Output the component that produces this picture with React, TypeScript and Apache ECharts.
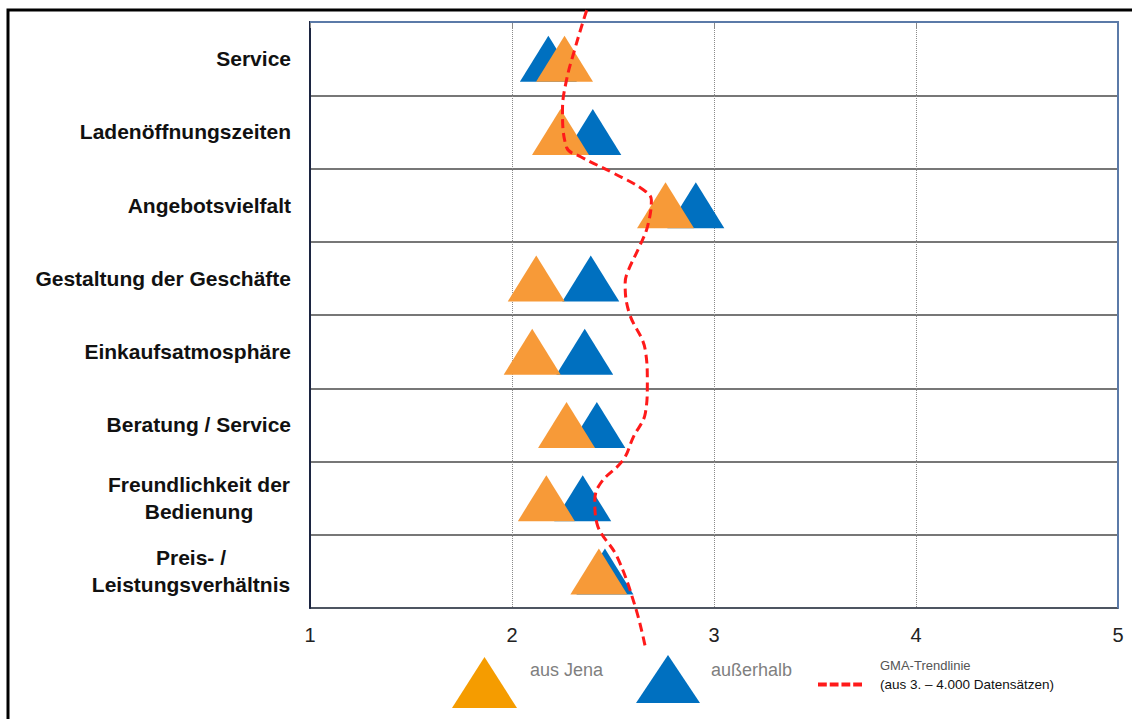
import React, { useEffect, useRef } from "react";
import * as echarts from "echarts";

const categories = [
  "Service",
  "Ladenöffnungszeiten",
  "Angebotsvielfalt",
  "Gestaltung der Geschäfte",
  "Einkaufsatmosphäre",
  "Beratung / Service",
  "Freundlichkeit der\nBedienung",
  "Preis- /\nLeistungsverhältnis",
];

const ausJena = [2.26, 2.24, 2.76, 2.12, 2.1, 2.27, 2.17, 2.43];
const ausserhalb = [2.18, 2.4, 2.91, 2.39, 2.36, 2.42, 2.35, 2.46];

// GMA trend line: [score, row position (0 = top of first row, 8 = bottom of last row)]
const trendScore = [2.37, 2.35, 2.31, 2.27, 2.25, 2.27, 2.34, 2.5, 2.65, 2.69, 2.67, 2.63, 2.57, 2.56, 2.58, 2.66, 2.67, 2.66, 2.6, 2.55, 2.44, 2.41, 2.42, 2.52, 2.61, 2.66];
const trendRow = [-0.16, 0.01, 0.38, 0.79, 1.2, 1.71, 1.84, 2.06, 2.29, 2.43, 2.8, 3.07, 3.43, 3.57, 3.97, 4.48, 4.93, 5.34, 5.67, 5.98, 6.29, 6.53, 6.84, 7.3, 7.98, 8.53];

const xTicks = [1, 2, 3, 4, 5];

const FONT = "'Liberation Sans', Arial, sans-serif";
const ORANGE = "#F79A38";
const BLUE = "#0070C0";
const FRAME_BLUE = "#5B7AA8";

const GRID = { left: 310, top: 22, width: 808, height: 586 };

export default function App() {
  const ref = useRef<HTMLDivElement>(null);

  useEffect(() => {
    if (!ref.current) return;
    const chart = echarts.init(ref.current, undefined, { renderer: "svg" });

    const labelFormatter = (v: string) => {
      if (v.startsWith("Freundlichkeit")) {
        const [a, b] = v.split("\n");
        return `{f|${a}}\n{f|${b}}`;
      }
      if (v.startsWith("Preis")) {
        const [a, b] = v.split("\n");
        return `{p|${a}}\n{p|${b}}`;
      }
      return v;
    };

    const labelBase = {
      fontFamily: FONT,
      fontWeight: "bold" as const,
      fontSize: 21,
      color: "#111",
      lineHeight: 27,
    };

    const legendTextStyle = { fontFamily: FONT, fontSize: 18, color: "#7F7F7F", lineHeight: 22 };

    chart.setOption({
      animation: false,
      backgroundColor: "#fff",
      grid: {
        ...GRID,
        show: true,
        borderColor: FRAME_BLUE,
        borderWidth: 2,
        backgroundColor: "#fff",
      },
      graphic: [
        {
          type: "rect",
          shape: { x: 8, y: 10, width: 1200, height: 800 },
          style: { fill: "none", stroke: "#000", lineWidth: 3 },
          silent: true,
          z: -1,
        },
        {
          type: "polyline",
          shape: {
            points: [
              [GRID.left, GRID.top],
              [GRID.left + GRID.width, GRID.top],
              [GRID.left + GRID.width, GRID.top + GRID.height],
            ],
          },
          style: { fill: "none", stroke: FRAME_BLUE, lineWidth: 2 },
          silent: true,
          z: 2,
        },
      ],
      xAxis: {
        type: "value",
        min: xTicks[0],
        max: xTicks[xTicks.length - 1],
        interval: 1,
        axisLine: { show: true, lineStyle: { color: "#1C2541", width: 2 } },
        axisTick: { show: true, length: 6, lineStyle: { color: "#888" } },
        axisLabel: {
          fontFamily: FONT,
          fontSize: 20,
          color: "#222",
          margin: 17,
        },
        splitLine: {
          show: true,
          lineStyle: { color: "#8a8a8a", type: "dotted", width: 1 },
        },
      },
      yAxis: [
        {
          type: "category",
          data: categories,
          inverse: true,
          axisLine: { show: true, lineStyle: { color: "#1C2541", width: 2 } },
          axisTick: { show: false },
          splitLine: { show: true, lineStyle: { color: "#4a4a4a", width: 1.5 } },
          axisLabel: {
            ...labelBase,
            margin: 19,
            formatter: labelFormatter,
            rich: {
              f: { ...labelBase, width: 184, align: "center" },
              p: { ...labelBase, width: 200, align: "center" },
            },
          },
        },
        {
          type: "value",
          min: 0,
          max: 8,
          inverse: true,
          show: false,
          splitLine: { show: false },
        },
      ],
      legend: [
        {
          left: 452,
          top: 657,
          padding: 0,
          itemWidth: 65,
          itemHeight: 51,
          data: [{ name: "aus Jena", icon: "triangle", itemStyle: { color: "#F59C00" } }],
          formatter: (n: string) => `{t|${n}}\n{s| }`,
          textStyle: {
            fontFamily: FONT,
            padding: [0, 0, 0, 8],
            rich: { t: legendTextStyle, s: { fontFamily: FONT, fontSize: 10, lineHeight: 26 } },
          },
        },
        {
          left: 636,
          top: 655,
          padding: 0,
          itemWidth: 64,
          itemHeight: 48,
          data: [{ name: "außerhalb", icon: "triangle", itemStyle: { color: BLUE } }],
          formatter: (n: string) => `{t|${n}}\n{s| }`,
          textStyle: {
            fontFamily: FONT,
            padding: [0, 0, 0, 6],
            rich: { t: legendTextStyle, s: { fontFamily: FONT, fontSize: 10, lineHeight: 18 } },
          },
        },
        {
          left: 818,
          top: 659,
          padding: 0,
          itemWidth: 44,
          itemHeight: 4,
          data: [
            {
              name: "GMA-Trendlinie",
              icon: "path://M0 0h9v4h-9z M12 0h9v4h-9z M24 0h9v4h-9z M36 0h9v4h-9z",
              itemStyle: { color: "#FF1A1A" },
            },
          ],
          formatter: (n: string) => `{a|${n}}\n{b|(aus 3. – 4.000 Datensätzen)}`,
          textStyle: {
            fontFamily: FONT,
            padding: [0, 0, 19, 13],
            rich: {
              a: { fontFamily: FONT, fontSize: 13, color: "#555", lineHeight: 19 },
              b: { fontFamily: FONT, fontSize: 13.5, color: "#111", lineHeight: 19 },
            },
          },
        },
      ],
      series: [
        {
          name: "außerhalb",
          type: "scatter",
          yAxisIndex: 0,
          symbol: "triangle",
          symbolSize: [57, 46],
          itemStyle: { color: BLUE, opacity: 1 },
          data: ausserhalb.map((v, i) => [v, categories[i]]),
          z: 2,
        },
        {
          name: "aus Jena",
          type: "scatter",
          yAxisIndex: 0,
          symbol: "triangle",
          symbolSize: [57, 46],
          itemStyle: { color: ORANGE, opacity: 1 },
          data: ausJena.map((v, i) => [v, categories[i]]),
          z: 3,
        },
        {
          name: "GMA-Trendlinie",
          type: "line",
          yAxisIndex: 1,
          smooth: 0.4,
          symbol: "none",
          clip: false,
          lineStyle: { color: "#FF1A1A", width: 3, type: [9, 5] },
          itemStyle: { color: "#FF1A1A" },
          data: trendScore.map((v, i) => [v, trendRow[i]]),
          z: 4,
        },
      ],
    });

    return () => chart.dispose();
  }, []);

  return (
    <div
      ref={ref}
      style={{ position: "fixed", left: 0, top: 0, width: 1132, height: 719 }}
    />
  );
}
